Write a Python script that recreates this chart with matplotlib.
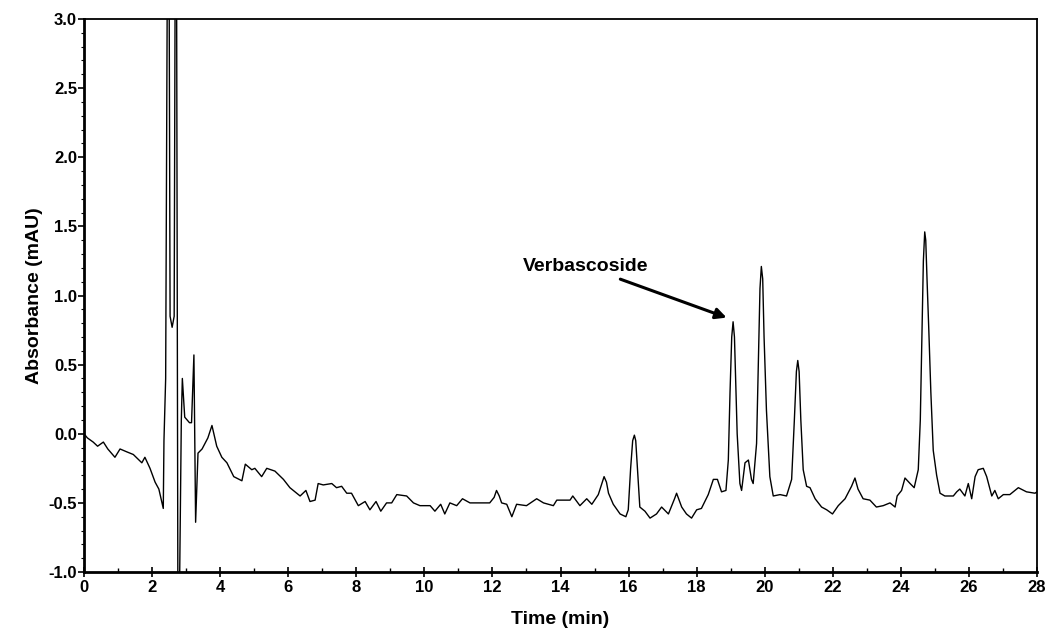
# HPLC chromatogram - verbascoside

import matplotlib
matplotlib.use('Agg')
import matplotlib.pyplot as plt
from matplotlib.ticker import MultipleLocator

plt.rcParams['font.family'] = ['Liberation Sans', 'DejaVu Sans']

# retention time (min) and absorbance (mAU)
time_min = [
    0.00, 0.10, 0.27, 0.40, 0.57, 0.70, 0.91, 1.06, 1.25, 1.45, 1.70, 1.79, 1.94, 2.09, 2.20, 2.33,
    2.35, 2.40, 2.45, 2.50, 2.53, 2.59, 2.65, 2.68, 2.72, 2.76, 2.80, 2.86,
    2.89, 2.96, 3.10, 3.16, 3.23, 3.28, 3.35, 3.47, 3.64, 3.76, 3.90, 4.05,
    4.20, 4.40, 4.64, 4.74, 4.93, 5.02, 5.22, 5.37, 5.61, 5.86, 6.05, 6.35,
    6.52, 6.64, 6.79, 6.88, 7.03, 7.28, 7.42, 7.57, 7.72, 7.86, 8.06, 8.26,
    8.40, 8.58, 8.72, 8.89, 9.04, 9.19, 9.48, 9.68, 9.87, 10.17, 10.31, 10.48,
    10.60, 10.75, 10.95, 11.12, 11.34, 11.63, 11.92, 12.05, 12.12, 12.20, 12.27, 12.42, 12.57, 12.71,
    13.00, 13.30, 13.50, 13.79, 13.89, 14.28, 14.36, 14.57, 14.77, 14.92, 15.11, 15.20, 15.28,
    15.35, 15.41, 15.55, 15.75, 15.92, 15.99, 16.06, 16.12, 16.17, 16.21, 16.26, 16.33, 16.48, 16.63, 16.82,
    16.97, 17.17, 17.35, 17.41, 17.47, 17.56, 17.70, 17.85, 18.00, 18.14, 18.34, 18.49, 18.61, 18.73,
    18.86, 18.93, 18.98, 19.03, 19.07, 19.11, 19.15, 19.19, 19.27, 19.32, 19.42, 19.52, 19.61, 19.66,
    19.76, 19.81, 19.86, 19.90, 19.94, 19.98, 20.05, 20.15, 20.25, 20.45, 20.64, 20.79, 20.87, 20.93, 20.97, 21.01,
    21.06, 21.13, 21.23, 21.33, 21.48, 21.67, 21.82, 21.99, 22.16, 22.36, 22.55, 22.65,
    22.74, 22.89, 23.09, 23.28, 23.48, 23.68, 23.83, 23.89, 24.02, 24.12, 24.27, 24.39,
    24.51, 24.57, 24.62, 24.66, 24.70, 24.73, 24.77, 24.82, 24.88, 24.95, 25.05, 25.15, 25.29, 25.54, 25.64, 25.73, 25.88,
    25.98, 26.08, 26.18, 26.27, 26.42, 26.52, 26.67, 26.76, 26.86, 27.01, 27.20, 27.45,
    27.69, 27.94, 28.00,
]
absorbance = [
    0.00, -0.03, -0.06, -0.09, -0.06, -0.11, -0.17, -0.11, -0.13, -0.15, -0.21, -0.17, -0.25, -0.35, -0.40, -0.54,
    -0.05, 0.40, 3.40, 3.40, 0.85, 0.77, 0.85, 3.40, 3.40, -1.30, -1.30, 0.10,
    0.40, 0.12, 0.08, 0.08, 0.57, -0.64, -0.14, -0.11, -0.03, 0.06, -0.09, -0.17,
    -0.21, -0.31, -0.34, -0.22, -0.26, -0.25, -0.31, -0.25, -0.27, -0.33, -0.39, -0.45,
    -0.41, -0.49, -0.48, -0.36, -0.37, -0.36, -0.39, -0.38, -0.43, -0.43, -0.52, -0.49,
    -0.55, -0.49, -0.56, -0.50, -0.50, -0.44, -0.45, -0.50, -0.52, -0.52, -0.56, -0.51,
    -0.58, -0.50, -0.52, -0.47, -0.50, -0.50, -0.50, -0.46, -0.41, -0.45, -0.50, -0.51, -0.60, -0.51,
    -0.52, -0.47, -0.50, -0.52, -0.48, -0.48, -0.45, -0.52, -0.47, -0.51, -0.44, -0.37, -0.31,
    -0.35, -0.43, -0.51, -0.58, -0.60, -0.55, -0.25, -0.05, -0.01, -0.05, -0.25, -0.53, -0.56, -0.61, -0.58,
    -0.53, -0.58, -0.47, -0.43, -0.47, -0.53, -0.58, -0.61, -0.55, -0.54, -0.44, -0.33, -0.33, -0.42,
    -0.41, -0.19, 0.30, 0.70, 0.81, 0.70, 0.35, 0.00, -0.36, -0.41, -0.21, -0.19, -0.33, -0.36,
    -0.07, 0.50, 1.05, 1.21, 1.12, 0.70, 0.17, -0.31, -0.45, -0.44, -0.45, -0.33, 0.10, 0.45, 0.53, 0.45,
    0.10, -0.26, -0.38, -0.39, -0.47, -0.53, -0.55, -0.58, -0.52, -0.47, -0.38, -0.32,
    -0.40, -0.47, -0.48, -0.53, -0.52, -0.50, -0.53, -0.45, -0.41, -0.32, -0.36, -0.39,
    -0.26, 0.10, 0.75, 1.25, 1.46, 1.40, 1.10, 0.75, 0.30, -0.12, -0.30, -0.43, -0.45, -0.45, -0.42, -0.40, -0.45,
    -0.36, -0.47, -0.31, -0.26, -0.25, -0.31, -0.45, -0.41, -0.47, -0.44, -0.44, -0.39,
    -0.42, -0.43, -0.42,
]

peak_label = 'Verbascoside'
peak_tip = (18.88, 0.84)
label_pos = (16.57, 1.21)

fig = plt.figure(figsize=(10.47, 6.41), dpi=100)
ax = fig.add_axes([0.0802, 0.1076, 0.9103, 0.8628])

ax.plot(time_min, absorbance, color='black', lw=1.0)

ax.set_xlim(0, 28)
ax.set_ylim(-1.0, 3.0)
ax.xaxis.set_major_locator(MultipleLocator(2))
ax.xaxis.set_minor_locator(MultipleLocator(1))
ax.yaxis.set_major_locator(MultipleLocator(0.5))
ax.yaxis.set_minor_locator(MultipleLocator(0.1))
ax.set_yticklabels([f'{v:.1f}' for v in ax.get_yticks()])

ax.tick_params(axis='x', which='major', direction='inout', length=7, width=1.2,
               labelsize=12, pad=2)
ax.tick_params(axis='x', which='minor', direction='in', length=3, width=1)
ax.tick_params(axis='y', which='major', direction='out', length=4, width=1.2,
               labelsize=12, pad=1)
ax.tick_params(axis='y', which='minor', direction='out', length=2, width=0.8)
for lab in ax.get_xticklabels() + ax.get_yticklabels():
    lab.set_fontweight('bold')

for side in ['left', 'bottom']:
    ax.spines[side].set_linewidth(2)
for side in ['right', 'top']:
    ax.spines[side].set_linewidth(1.3)

ax.set_xlabel('Time (min)', fontsize=14, fontweight='bold', labelpad=12)
ax.set_ylabel('Absorbance (mAU)', fontsize=14, fontweight='bold', labelpad=4)

ax.annotate(peak_label, xy=peak_tip, xytext=label_pos, ha='right', va='center',
            fontsize=14, fontweight='bold',
            arrowprops=dict(arrowstyle='-|>', color='black', lw=2.2,
                            mutation_scale=16, shrinkA=3, shrinkB=0))

fig.savefig('out.png', dpi=100)
